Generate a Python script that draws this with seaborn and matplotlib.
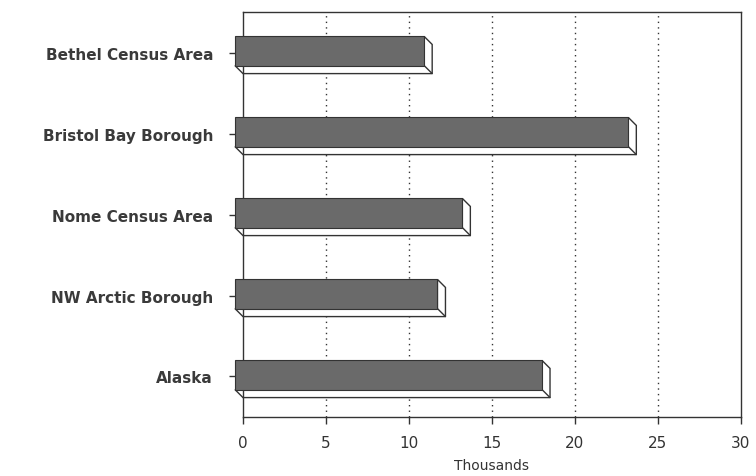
import pandas as pd
import matplotlib
matplotlib.use("Agg")
import matplotlib.pyplot as plt
import matplotlib.transforms as mtrans
from matplotlib.patches import Polygon
import seaborn as sns

areas = ["Bethel Census Area", "Bristol Bay Borough", "Nome Census Area",
         "NW Arctic Borough", "Alaska"]
values = [11.4, 23.7, 13.7, 12.2, 18.5]
x_ticks = [0, 5, 10, 15, 20, 25, 30]

df = pd.DataFrame({"area": areas, "value": values})

sns.set_style("white")
plt.rcParams["font.family"] = ["DejaVu Sans"]

fig = plt.figure(figsize=(7.56, 4.77), dpi=100)
ax = fig.add_axes([0.3214, 0.1237, 0.6586, 0.849])

sns.barplot(data=df, x="value", y="area", orient="h", color="#6a6a6a",
            width=0.36, saturation=1, ax=ax, zorder=3)

ax.set_xlim(0, 30)
ax.set_ylim(4.5, -0.5)


def px(dx, dy):
    return mtrans.ScaledTranslation(dx / 100, dy / 100, fig.dpi_scale_trans)


front_t = ax.transData + px(-8, 1.5)
back_t = ax.transData + px(0, -6.5)
inv = ax.transData.inverted()

# fake 3D: dark front face shifted up-left, white extrusion to lower right
for p in list(ax.patches):
    x, y = p.get_x(), p.get_y()
    w, h = p.get_width(), p.get_height()
    # y axis inverted: y is top, y+h is bottom
    f = lambda pt: inv.transform(front_t.transform(pt))
    b = lambda pt: inv.transform(back_t.transform(pt))
    pts = [f((x + w, y)), b((x + w, y)), b((x + w, y + h)), b((x, y + h)),
           f((x, y + h)), f((x + w, y + h))]
    ax.add_patch(Polygon(pts, closed=True, facecolor="white", edgecolor="#333333",
                         linewidth=1.0, zorder=2, clip_on=False))
    c0, c1 = f((x + w, y + h)), b((x + w, y + h))
    ax.plot([c0[0], c1[0]], [c0[1], c1[1]], color="#333333", lw=1.0,
            zorder=2.5, clip_on=False)
    p.set_transform(front_t)
    p.set_edgecolor("#333333")
    p.set_linewidth(0.8)
    p.set_clip_on(False)

ax.set_xticks(x_ticks)
ax.set_xticklabels([str(t) for t in x_ticks], fontsize=11, color="#333333")
ax.set_yticks(range(len(areas)))
ax.set_yticklabels(areas, fontsize=11, fontweight="bold", color="#3a3a3a")
ax.set_xlabel("Thousands", fontsize=10, color="#333333", labelpad=6)
ax.set_ylabel("")

for t in x_ticks[1:-1]:
    ax.axvline(t, color="#333333", linestyle=(0, (1, 3)), linewidth=1.0, zorder=1)

for s in ax.spines.values():
    s.set_visible(True)
    s.set_color("#333333")
    s.set_linewidth(1.0)

ax.tick_params(axis="x", bottom=True, direction="out", length=5, width=1,
               color="#333333", pad=8)
ax.tick_params(axis="y", left=True, direction="out", length=10, width=1,
               color="#333333", pad=11.5)
ax.grid(False)

fig.savefig("out.png", dpi=100)
